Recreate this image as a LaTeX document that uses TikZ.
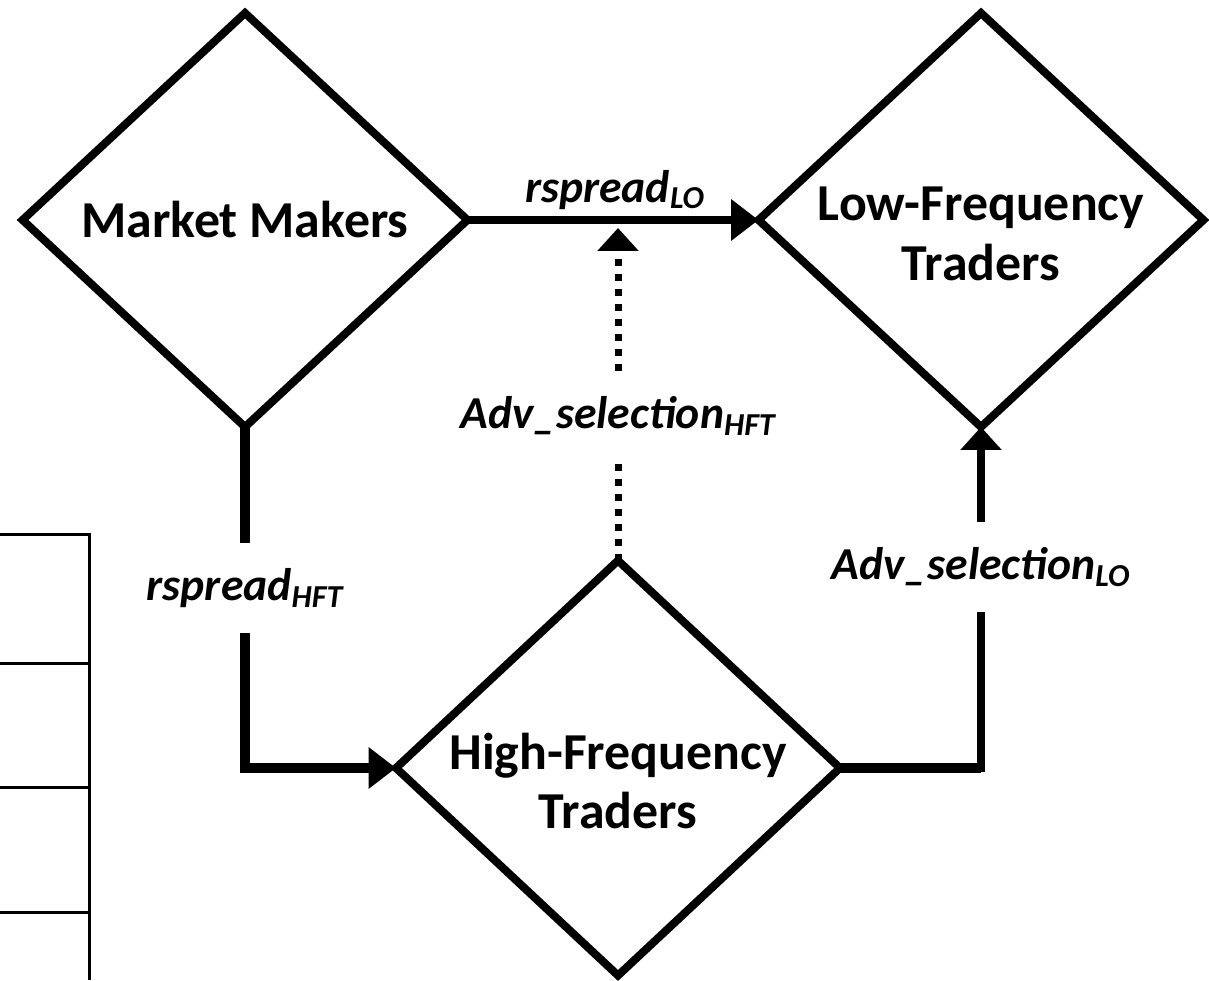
\documentclass[tikz,border=0pt]{standalone}
\usepackage{fontspec}
\setmainfont{Carlito}
\usetikzlibrary{shapes.geometric,arrows.meta,calc}
\tikzset{
  dia/.style={draw, line width=0.16cm, shape=diamond, inner sep=0pt, outer sep=0pt},
  diatext/.style={align=center, inner sep=0pt, font=\fontsize{29.5}{34}\selectfont\bfseries},
  lbl/.style={inner sep=0pt, outer sep=0pt, minimum height=1.8cm,
    font=\fontsize{26}{31}\selectfont\bfseries\itshape},
  conn/.style={line width=0.16cm},
  thickconn/.style={line width=0.2cm},
  tip/.style={-{Triangle[length=0.55cm,width=0.8cm]}},
  smalltip/.style={-{Triangle[length=0.46cm,width=0.8cm]}},
  dotline/.style={line width=0.14cm, dash pattern=on 0.14cm off 0.16cm},
  tbl/.style={line width=0.06cm}
}
\begin{document}
\begin{tikzpicture}[x=0.02cm,y=-0.02cm]
\useasboundingbox (0,0) rectangle (1209,980);
% table fragment on the left
\coordinate (t0) at (0,534);
\coordinate (t1) at (89,534);
\coordinate (t2) at (89,980);
\draw[tbl] (t0) -- (t1) -- (t2);
\draw[tbl] (0,663) -- (89,663);
\draw[tbl] (0,787) -- (89,787);
\draw[tbl] (0,912) -- (89,912);
% diamonds
\node[dia, minimum width=8.9cm, minimum height=8.28cm] (mm) at (245,220) {};
\node[dia, minimum width=8.9cm, minimum height=8.28cm] (lf) at (981,220) {};
\node[dia, minimum width=8.88cm, minimum height=8.3cm] (hf) at (618,768) {};
\node[diatext] (mmt) at (mm.center) {Market Makers};
\node[diatext] (lft) at ($(lf.center)+(0,14)$) {Low-Frequency\\Traders};
\node[diatext] (hft) at ($(hf.center)+(0,13)$) {High-Frequency\\Traders};
% labels
\node[lbl, minimum height=0pt] (rlo) at (615,190) {rspread\textsubscript{LO}};
\node[lbl] (rhft) at (245,588) {rspread\textsubscript{HFT}};
\node[lbl] (ahft) at (618,416) {Adv\_selection\textsubscript{HFT}};
\node[lbl] (alo) at (981,567) {Adv\_selection\textsubscript{LO}};
\coordinate (tgt) at (618,228);
\coordinate (corner) at (hf.east -| alo.south);
% connectors
\draw[conn,tip] (mm.east) -- (lf.west);
\draw[thickconn] (mm.south) -- (rhft.north);
\draw[thickconn,tip] (rhft.south) |- (hf.west);
\draw[dotline] (hf.north) -- (ahft.south);
\draw[dotline,smalltip] (ahft.north) -- (tgt);
\draw[conn] (hf.east) -| (alo.south);
\draw[thickconn] (hf.east) -- (corner);
\draw[conn,smalltip] (alo.north) -- (lf.south);
\end{tikzpicture}
\end{document}
